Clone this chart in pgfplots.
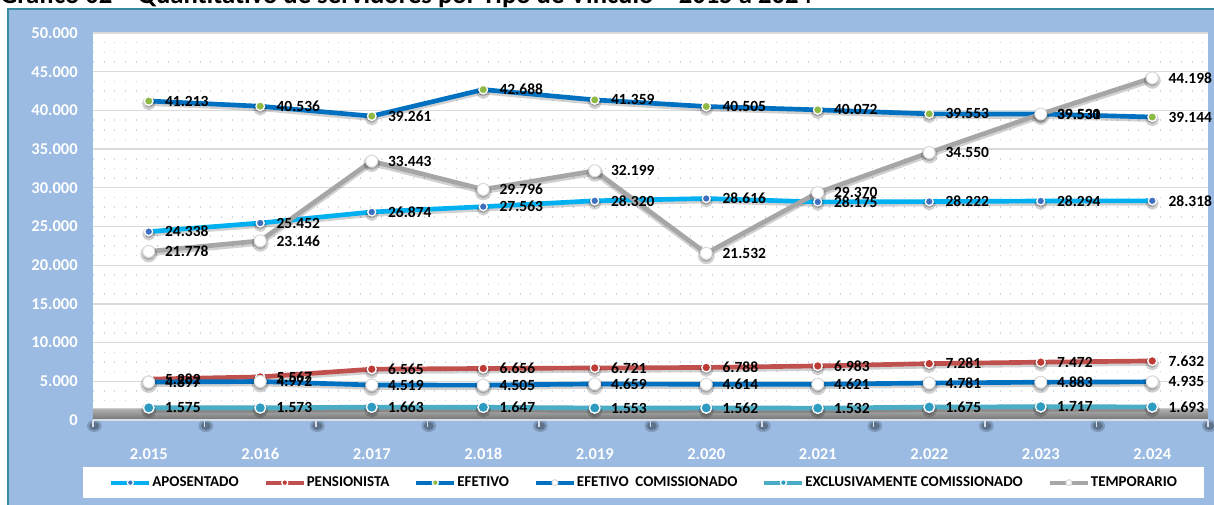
\documentclass[border=0pt]{standalone}
\usepackage{fontspec}
\setmainfont{Carlito}
\usepackage{pgfplots}
\pgfplotsset{compat=1.18}
\usepackage{pgfplotstable}
\definecolor{bgblue}{HTML}{9BBBE3}
\definecolor{framecol}{HTML}{3A8A9E}
\definecolor{gridgray}{HTML}{DADADA}
\definecolor{dotcol}{HTML}{C9D5E8}
\definecolor{aposline}{HTML}{00B0F0}
\definecolor{aposmark}{HTML}{3F6FC0}
\definecolor{pensline}{HTML}{C0504D}
\definecolor{pensmark}{HTML}{BE3A34}
\definecolor{efetline}{HTML}{0070C0}
\definecolor{efetmark}{HTML}{8DB944}
\definecolor{exclline}{HTML}{4BACC6}
\definecolor{exclmark}{HTML}{2E9CC0}
\definecolor{templine}{HTML}{A6A6A6}
\definecolor{axiscol}{HTML}{D6DEEA}

\pgfplotstableread{
x apos pens efet efcom excl temp
0 24338 5282 41213 4897 1575 21778
1 25452 5567 40536 4972 1573 23146
2 26874 6565 39261 4519 1663 33443
3 27563 6656 42688 4505 1647 29796
4 28320 6721 41359 4659 1553 32199
5 28616 6788 40505 4614 1562 21532
6 28175 6983 40072 4621 1532 29370
7 28222 7281 39553 4781 1675 34550
8 28294 7472 39531 4883 1717 39530
9 28318 7632 39144 4935 1693 44198
}\data

\begin{document}
\begin{tikzpicture}[x=0.6pt,y=0.6pt]
\useasboundingbox (0,0) rectangle (1214,505);
\fill[bgblue] (8,-10) rectangle (1230,496);
\draw[framecol, line width=1pt] (8,-10) -- (8,496) -- (1230,496);
\node[anchor=base west, inner sep=0pt, font=\bfseries\fontsize{16}{17}\selectfont] at (0,501) {Gráfico 02 – Quantitativo de servidores por Tipo de Vínculo – 2015 a 2024};
\begin{axis}[
  at={(55.8pt,51pt)}, anchor=south west,
  scale only axis, width=669pt, height=232.2pt,
  xmin=-0.5, xmax=9.5, ymin=0, ymax=50000,
  scaled y ticks=false, scaled x ticks=false,
  axis line style={draw=none},
  axis background/.style={fill=white},
  clip=false,
  xtick={0,...,9},
  xticklabels={2.015,2.016,2.017,2.018,2.019,2.020,2.021,2.022,2.023,2.024},
  ytick={0,5000,...,50000},
  yticklabels={0,5.000,10.000,15.000,20.000,25.000,30.000,35.000,40.000,45.000,50.000},
  major tick length=0pt, minor tick length=0pt,
  tick style={draw=none},
  ymajorgrids, major grid style={draw=gridgray, line width=0.8pt},
  minor y tick num=3, yminorgrids,
  minor grid style={draw=dotcol, line width=0.9pt, dash pattern=on 0.7pt off 5.7pt},
  ticklabel style={font=\bfseries\fontsize{9.9}{10}\selectfont, text=white},
  yticklabel style={anchor=east, inner sep=0pt, xshift=-9pt},
  xticklabel style={anchor=base, inner sep=0pt, yshift=-24pt},
  /pgf/number format/assume math mode=true,
  /pgf/number format/1000 sep={.},
  every axis plot/.append style={line width=2.8pt},
  legend columns=6,
  legend style={at={(-0.00897,-0.1214)}, anchor=north west, draw=none, fill=white,
    font=\bfseries\fontsize{9}{10}\selectfont, inner xsep=15.6pt, inner ysep=5.5pt,
    /tikz/every even column/.append style={column sep=14.4pt},
    nodes={inner xsep=0.6pt, inner ysep=0pt}},
  legend image code/.code={\draw[#1, line width=2.4pt, mark size=1.8pt, mark repeat=2, mark phase=2] plot coordinates {(0pt,0pt) (11.4pt,0pt) (22.8pt,0pt)};},
  lab/.style={draw=none, mark=none, forget plot, nodes near coords, point meta=y,
    nodes near coords align=horizontal,
    every node near coord/.append style={anchor=west, xshift=8.4pt, inner sep=0pt, text=black,
      font=\bfseries\fontsize{9.3}{10}\selectfont}},
  shad/.style={black, opacity=0.18, forget plot, yshift=-1.5pt, mark=*,
    mark options={draw=none, fill=black}},
]
% floor band
\addplot[forget plot, draw=none, top color=gray!60, bottom color=black!55, line width=0pt]
  coordinates {(-0.5,0) (9.5,0) (9.5,1500) (-0.5,1500)} \closedcycle;
\pgfplotsinvokeforeach{-0.5,0.5,1.5,2.5,3.5,4.5,5.5,6.5,7.5,8.5,9.5}{
  \fill[black, opacity=0.18] ([shift={(0.8pt,-3.6pt)}]axis cs:#1,0) ellipse (4.4pt and 3.6pt);
  \fill[black, opacity=0.25] ([shift={(0.8pt,-3.6pt)}]axis cs:#1,0) ellipse (3pt and 2.4pt);
}
\draw[axiscol, line width=1.2pt] (axis cs:-0.5,0) -- (axis cs:9.5,0);
\pgfplotsinvokeforeach{-0.5,0.5,1.5,2.5,3.5,4.5,5.5,6.5,7.5,8.5,9.5}{
  \draw[axiscol, line width=1pt] (axis cs:#1,0) -- ++(0pt,-4.2pt);
}
% shadows
\addplot[shad, mark size=2.4pt] table[x=x,y=apos]{\data};
\addplot[shad, mark size=2.7pt] table[x=x,y=pens]{\data};
\addplot[shad, mark size=2.6pt] table[x=x,y=efet]{\data};
\addplot[shad, mark size=3.6pt] table[x=x,y=efcom]{\data};
\addplot[shad, mark size=3.2pt] table[x=x,y=excl]{\data};
\addplot[shad, mark size=3.6pt] table[x=x,y=temp]{\data};
% series
\addplot[aposline, mark=*, mark size=2.4pt, mark options={fill=aposmark, draw=white, line width=0.8pt}] table[x=x,y=apos]{\data};
\addlegendentry{APOSENTADO}
\addplot[pensline, mark=*, mark size=2.7pt, mark options={fill=pensmark, draw=white, line width=0.8pt}] table[x=x,y=pens]{\data};
\addlegendentry{PENSIONISTA}
\addplot[efetline, mark=*, mark size=2.6pt, mark options={fill=efetmark, draw=white, line width=0.8pt}] table[x=x,y=efet]{\data};
\addlegendentry{EFETIVO}
\addplot[efetline, mark=*, mark size=3.6pt, mark options={fill=white, draw=gridgray, line width=0.6pt}] table[x=x,y=efcom]{\data};
\addlegendentry{EFETIVO\ \ COMISSIONADO}
\addplot[exclline, mark=*, mark size=3.2pt, mark options={fill=exclmark, draw=white, line width=0.8pt}] table[x=x,y=excl]{\data};
\addlegendentry{EXCLUSIVAMENTE COMISSIONADO}
\addplot[templine, mark=*, mark size=3.6pt, mark options={fill=white, draw=gridgray, line width=0.6pt}] table[x=x,y=temp]{\data};
\addlegendentry{TEMPORARIO}
% labels
\addplot[lab] table[x=x,y=apos]{\data};
\addplot[lab] table[x=x,y=pens]{\data};
\addplot[lab] table[x=x,y=efet]{\data};
\addplot[lab] table[x=x,y=efcom]{\data};
\addplot[lab] table[x=x,y=excl]{\data};
\addplot[lab] table[x=x,y=temp]{\data};
\end{axis}
\end{tikzpicture}
\end{document}
